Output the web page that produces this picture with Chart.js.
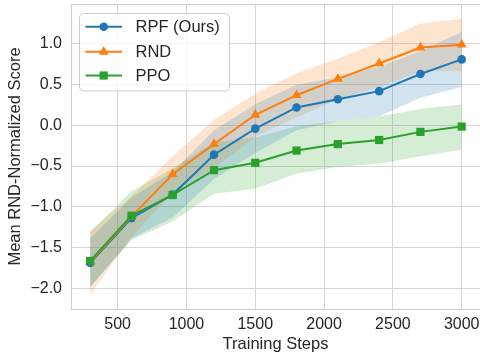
<!DOCTYPE html>
<html>
<head>
<meta charset="utf-8">
<script src="https://cdn.jsdelivr.net/npm/chart.js@4/dist/chart.umd.min.js"></script>
<style>
  html, body { margin: 0; padding: 0; background: #ffffff; }
  #wrap { width: 480px; height: 354px; position: relative; }
</style>
</head>
<body>
<div id="wrap"><canvas id="c" width="480" height="354"></canvas></div>
<script>
// ---- data ----
const steps = [300, 600, 900, 1200, 1500, 1800, 2100, 2400, 2700, 3000];

const rpfMean = [-1.69, -1.14, -0.85, -0.36, -0.04, 0.22, 0.32, 0.42, 0.63, 0.81];
const rpfHigh = [-1.39, -0.89, -0.57, -0.06, 0.26, 0.50, 0.59, 0.72, 0.91, 1.15];
const rpfLow  = [-1.99, -1.39, -1.13, -0.66, -0.34, -0.06, 0.05, 0.11, 0.34, 0.47];

const rndMean = [-1.68, -1.12, -0.60, -0.23, 0.13, 0.37, 0.57, 0.76, 0.955, 0.99];
const rndHigh = [-1.30, -0.87, -0.38, 0.07, 0.39, 0.64, 0.82, 1.02, 1.25, 1.31];
const rndLow  = [-2.08, -1.37, -0.82, -0.52, -0.14, 0.10, 0.32, 0.47, 0.66, 0.67];

const ppoMean = [-1.665, -1.11, -0.855, -0.55, -0.46, -0.31, -0.23, -0.18, -0.08, -0.015];
const ppoHigh = [-1.31, -0.81, -0.53, -0.21, -0.15, -0.01, 0.05, 0.11, 0.20, 0.26];
const ppoLow  = [-1.98, -1.41, -1.18, -0.84, -0.78, -0.59, -0.51, -0.47, -0.38, -0.30];

const xTicks = [500, 1000, 1500, 2000, 2500, 3000];
const yTicks = [-2.0, -1.5, -1.0, -0.5, 0.0, 0.5, 1.0];

const seriesLabels = ['RPF (Ours)', 'RND', 'PPO'];
const seriesColors = ['#1f77b4', '#ff7f0e', '#2ca02c'];
// -------------------------------------

const pts = (arr) => steps.map((s, i) => ({ x: s, y: arr[i] }));
const rgba = (hex, a) => {
  const n = parseInt(hex.slice(1), 16);
  return `rgba(${(n >> 16) & 255},${(n >> 8) & 255},${n & 255},${a})`;
};
const TEXT = '#262626';
const FONT = '"Liberation Sans", Arial, Helvetica, sans-serif';

function band(high, low, color) {
  return [
    { data: pts(high), borderWidth: 0, pointRadius: 0, fill: false, order: 10, isBand: true,
      borderColor: 'rgba(0,0,0,0)', backgroundColor: 'rgba(0,0,0,0)' },
    { data: pts(low), borderWidth: 0, pointRadius: 0, fill: '-1', order: 10, isBand: true,
      borderColor: 'rgba(0,0,0,0)', backgroundColor: rgba(color, 0.2) }
  ];
}
function line(label, mean, color, style, radius, order) {
  return { label, data: pts(mean), borderColor: color, backgroundColor: color, borderWidth: 2,
    pointStyle: style, pointRadius: radius, pointBorderWidth: 0, pointBackgroundColor: color,
    fill: false, tension: 0, order, markerStyle: style, markerRadius: radius };
}

const datasets = [
  ...band(rpfHigh, rpfLow, seriesColors[0]),
  ...band(rndHigh, rndLow, seriesColors[1]),
  ...band(ppoHigh, ppoLow, seriesColors[2]),
  line(seriesLabels[0], rpfMean, seriesColors[0], 'circle', 4.3, 2),
  line(seriesLabels[1], rndMean, seriesColors[1], 'triangle', 5.8, 1),
  line(seriesLabels[2], ppoMean, seriesColors[2], 'rect', 5.8, 0)
];

function drawMarker(ctx, style, r, x, y, color) {
  ctx.save();
  ctx.fillStyle = color;
  ctx.beginPath();
  if (style === 'circle') {
    ctx.arc(x, y, r, 0, Math.PI * 2);
  } else if (style === 'triangle') {
    for (let k = 0; k < 3; k++) {
      const a = k * 2 * Math.PI / 3;
      const px = x + Math.sin(a) * r, py = y - Math.cos(a) * r;
      if (k === 0) ctx.moveTo(px, py); else ctx.lineTo(px, py);
    }
    ctx.closePath();
  } else {
    const s = r * Math.SQRT1_2;
    ctx.rect(x - s, y - s, 2 * s, 2 * s);
  }
  ctx.fill();
  ctx.restore();
}

const framePlugin = {
  id: 'frame',
  afterDatasetsDraw(chart) {
    const { ctx, chartArea: a } = chart;
    ctx.save();
    ctx.strokeStyle = '#cccccc';
    ctx.lineWidth = 1;
    ctx.beginPath();
    ctx.moveTo(a.left, Math.round(a.top) + 0.5);
    ctx.lineTo(a.right, Math.round(a.top) + 0.5);
    ctx.stroke();
    ctx.restore();
  }
};

const legendPlugin = {
  id: 'boxLegend',
  afterDraw(chart) {
    const { ctx, chartArea: a } = chart;
    const items = chart.data.datasets.filter(d => !d.isBand);
    const order = seriesLabels.map(l => items.find(d => d.label === l));
    const bx = a.left + 8.5, by = a.top + 9.5, bw = 150, bh = 77.5, rr = 4;
    ctx.save();
    ctx.beginPath();
    ctx.moveTo(bx + rr, by);
    ctx.lineTo(bx + bw - rr, by);
    ctx.quadraticCurveTo(bx + bw, by, bx + bw, by + rr);
    ctx.lineTo(bx + bw, by + bh - rr);
    ctx.quadraticCurveTo(bx + bw, by + bh, bx + bw - rr, by + bh);
    ctx.lineTo(bx + rr, by + bh);
    ctx.quadraticCurveTo(bx, by + bh, bx, by + bh - rr);
    ctx.lineTo(bx, by + rr);
    ctx.quadraticCurveTo(bx, by, bx + rr, by);
    ctx.closePath();
    ctx.fillStyle = 'rgba(255,255,255,0.8)';
    ctx.fill();
    ctx.strokeStyle = '#cccccc';
    ctx.lineWidth = 1;
    ctx.stroke();
    const rowY = [by + 13.3, by + 38.3, by + 62];
    order.forEach((d, i) => {
      const y = rowY[i];
      ctx.strokeStyle = d.borderColor;
      ctx.lineWidth = 2;
      ctx.beginPath();
      ctx.moveTo(bx + 6, y);
      ctx.lineTo(bx + 42.5, y);
      ctx.stroke();
      drawMarker(ctx, d.markerStyle, d.markerRadius, bx + 24.2, y, d.borderColor);
      ctx.fillStyle = TEXT;
      ctx.font = '16.5px ' + FONT;
      ctx.textAlign = 'left';
      ctx.textBaseline = 'middle';
      ctx.fillText(d.label, bx + 56, y + 0.5);
    });
    ctx.restore();
  }
};

const fmtY = (v) => {
  const s = Math.abs(v).toFixed(1);
  return v < -1e-9 ? '\u2212' + s : s;
};

new Chart(document.getElementById('c'), {
  type: 'line',
  data: { datasets },
  plugins: [framePlugin, legendPlugin],
  options: {
    responsive: false,
    animation: false,
    devicePixelRatio: 1,
    layout: { autoPadding: false, padding: { left: 0, right: 0, top: 4, bottom: 0 } },
    plugins: { legend: { display: false }, tooltip: { enabled: false } },
    scales: {
      x: {
        type: 'linear',
        min: 161,
        max: 3133,
        afterBuildTicks: (s) => { s.ticks = xTicks.map(v => ({ value: v })); },
        afterFit: (s) => { s.height = 45; s.paddingLeft = 0; s.paddingRight = 0; },
        grid: { color: '#d6d6d6', lineWidth: 1, drawTicks: true, tickLength: 6, tickColor: 'rgba(0,0,0,0)' },
        border: { color: '#cccccc', width: 1 },
        ticks: { color: TEXT, font: { family: FONT, size: 16 }, padding: 0, maxRotation: 0,
                 callback: (v) => String(v) },
        title: { display: true, text: 'Training Steps', color: TEXT,
                 font: { family: FONT, size: 16.5, lineHeight: 1 }, padding: { top: 0, bottom: 1 } }
      },
      y: {
        type: 'linear',
        min: -2.255,
        max: 1.49,
        afterBuildTicks: (s) => { s.ticks = yTicks.map(v => ({ value: v })); },
        afterFit: (s) => { s.width = 71; s.paddingTop = 0; s.paddingBottom = 0; },
        grid: { color: '#d6d6d6', lineWidth: 1, drawTicks: false },
        border: { color: '#cccccc', width: 1 },
        ticks: { color: TEXT, font: { family: FONT, size: 16 }, padding: 9, callback: (v) => fmtY(v) },
        title: { display: true, text: 'Mean RND-Normalized Score', color: TEXT,
                 font: { family: FONT, size: 16.5, lineHeight: 1 }, padding: { top: 7, bottom: 0 } }
      }
    }
  }
});
</script>
</body>
</html>
